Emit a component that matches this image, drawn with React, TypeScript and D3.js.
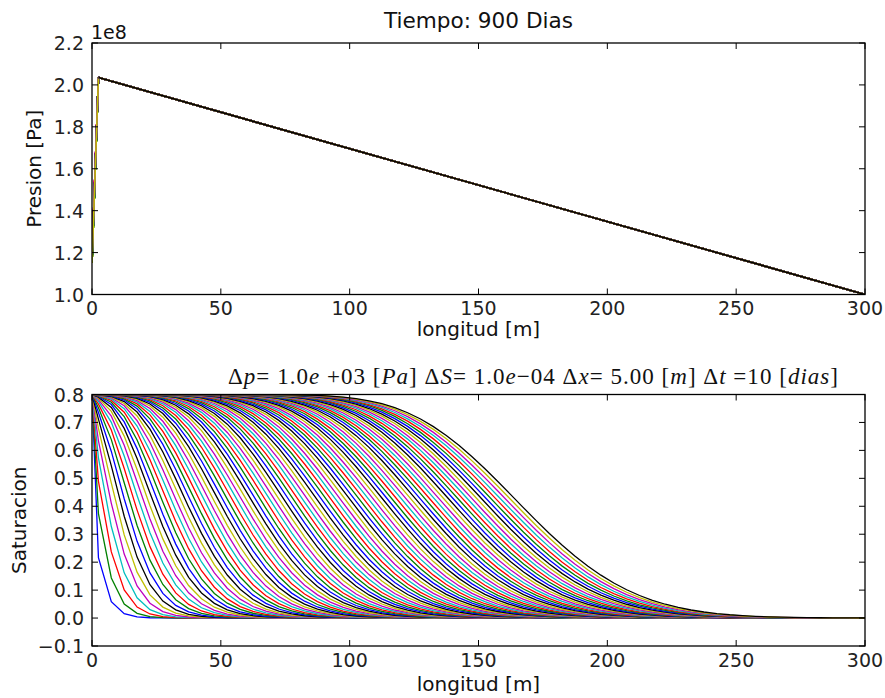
import React from "react";
import * as d3 from "d3";

// ---------- data ----------
const xTicks = [0, 50, 100, 150, 200, 250, 300];
const pressureTicks = [1.0, 1.2, 1.4, 1.6, 1.8, 2.0, 2.2];
const saturationTicks = [-0.1, 0.0, 0.1, 0.2, 0.3, 0.4, 0.5, 0.6, 0.7, 0.8];
const colorCycle = ["#0000ff", "#008000", "#ff0000", "#00bfbf", "#bf00bf", "#bfbf00", "#000000"];

// pressure profile (units of 1e8 Pa)
const inletPressures = [1.16, 1.15, 1.17, 1.16, 1.18, 1.15, 1.16];
const peakX = 2.5;
const peakPressure = 2.035;
const outletX = 300;
const outletPressure = 1.0;

// saturation simulation parameters (91 curves, dx = 5 m)
const nCurves = 91;
const nCells = 60;
const cellSize = 5;
const injectedSaturation = 0.8;
const courant = 0.37;
const theta = 1.0;

function buildSaturationCurves(): [number, number][][] {
  let s = new Array(nCells).fill(0);
  const curves: [number, number][][] = [];
  for (let n = 0; n < nCurves; n++) {
    const next: number[] = [];
    let left = injectedSaturation;
    for (let i = 0; i < nCells; i++) {
      const old = s[i];
      const oldLeft = i === 0 ? injectedSaturation : s[i - 1];
      const rhs = old - courant * (1 - theta) * (old - oldLeft) + courant * theta * left;
      next[i] = rhs / (1 + courant * theta);
      left = next[i];
    }
    s = next;
    const pts: [number, number][] = [[0, injectedSaturation]];
    s.forEach((v, i) => pts.push([(i + 0.5) * cellSize, v]));
    pts.push([300, s[nCells - 1]]);
    curves.push(pts);
  }
  return curves;
}

const W = 885;
const H = 698;
const FONT = "DejaVu Sans, Liberation Sans, sans-serif";

export default function App() {
  const left = 92;
  const right = 865;
  const top1 = 43;
  const bot1 = 294.5;
  const top2 = 394.5;
  const bot2 = 646;

  const x = d3.scaleLinear().domain([0, 300]).range([left, right]);
  const yP = d3.scaleLinear().domain([1.0, 2.2]).range([bot1, top1]);
  const yS = d3.scaleLinear().domain([-0.1, 0.8]).range([bot2, top2]);

  const curves = buildSaturationCurves();
  const line = d3.line<[number, number]>().x((d) => x(d[0])).y((d) => yS(d[1]));
  const pline = d3.line<[number, number]>().x((d) => x(d[0])).y((d) => yP(d[1]));

  // inlet segments (all but the final black step, whose inlet coincides with the peak)
  const inletSegments: [number, number][][] = [];
  for (let n = 0; n < nCurves - 1; n++) {
    inletSegments.push([
      [0, inletPressures[n % inletPressures.length]],
      [peakX, peakPressure],
    ]);
  }
  const mainSegments: [number, number][][] = [];
  for (let n = 0; n < nCurves; n++) {
    mainSegments.push([
      [peakX, peakPressure],
      [outletX, outletPressure],
    ]);
  }

  const tickLen = 6;
  const fs = 19;
  const fl = 20;

  const frame = (t: number, b: number, yscale: d3.ScaleLinear<number, number>, yt: number[], fmt: (v: number) => string) => (
    <g>
      {xTicks.map((v) => (
        <g key={"xt" + v}>
          <line x1={x(v)} x2={x(v)} y1={b} y2={b - tickLen} stroke="#000" strokeWidth={1} />
          <line x1={x(v)} x2={x(v)} y1={t} y2={t + tickLen} stroke="#000" strokeWidth={1} />
          <text x={x(v)} y={b + 20.5} fontSize={fs} textAnchor="middle" fill="#222">{v}</text>
        </g>
      ))}
      {yt.map((v) => (
        <g key={"yt" + v}>
          <line x1={left} x2={left + tickLen} y1={yscale(v)} y2={yscale(v)} stroke="#000" strokeWidth={1} />
          <line x1={right} x2={right - tickLen} y1={yscale(v)} y2={yscale(v)} stroke="#000" strokeWidth={1} />
          <text x={left - 8} y={yscale(v) + 7} fontSize={fs} textAnchor="end" fill="#222">{fmt(v)}</text>
        </g>
      ))}
      <rect x={left} y={t} width={right - left} height={b - t} fill="none" stroke="#000" strokeWidth={1.3} />
    </g>
  );

  const fmtS = (v: number) => (v < 0 ? "\u2212" + Math.abs(v).toFixed(1) : v.toFixed(1));

  return (
    <svg width={W} height={H} style={{ position: "absolute", left: 0, top: 0, background: "#fff" }} fontFamily={FONT}>
      <rect x={0} y={0} width={W} height={H} fill="#fff" />
      <defs>
        <clipPath id="c1"><rect x={left} y={top1} width={right - left} height={bot1 - top1} /></clipPath>
        <clipPath id="c2"><rect x={left} y={top2} width={right - left} height={bot2 - top2} /></clipPath>
      </defs>
      {/* ---------- top panel ---------- */}
      <g clipPath="url(#c1)">
        {inletSegments.map((pl, i) => (
          <path key={"in" + i} d={pline(pl) || ""} fill="none" stroke={colorCycle[i % 7]} strokeWidth={1.6} />
        ))}
        {mainSegments.map((pl, i) => (
          <path key={"m" + i} d={pline(pl) || ""} fill="none" stroke={colorCycle[i % 7]} strokeWidth={1.6} />
        ))}
      </g>
      {frame(top1, bot1, yP, pressureTicks, (v) => v.toFixed(1))}
      <text x={(left + right) / 2} y={28} fontSize={21.6} textAnchor="middle" fill="#111">Tiempo: 900 Dias</text>
      <text x={left - 1} y={39} fontSize={fs} fill="#111">1e8</text>
      <text x={(left + right) / 2} y={336} fontSize={fl} textAnchor="middle" fill="#111">longitud [m]</text>
      <text transform={`translate(41,${(top1 + bot1) / 2}) rotate(-90)`} fontSize={fl} textAnchor="middle" fill="#111">Presion [Pa]</text>

      {/* ---------- bottom panel ---------- */}
      <g clipPath="url(#c2)">
        {curves.map((c, i) => (
          <path key={i} d={line(c) || ""} fill="none" stroke={colorCycle[i % 7]} strokeWidth={1.3} />
        ))}
      </g>
      {frame(top2, bot2, yS, saturationTicks, fmtS)}
      <text x={(left + right) / 2} y={691} fontSize={fl} textAnchor="middle" fill="#111">longitud [m]</text>
      <text transform={`translate(26,${(top2 + bot2) / 2}) rotate(-90)`} fontSize={fl} textAnchor="middle" fill="#111">Saturacion</text>
      <text x={228} y={384} fontSize={23} fill="#111" fontFamily="'Liberation Serif', 'Times New Roman', serif" textLength={610} lengthAdjust="spacing">
        <tspan>Δ</tspan><tspan fontStyle="italic">p</tspan><tspan>= 1.0</tspan><tspan fontStyle="italic">e</tspan>
        <tspan> +03 [</tspan><tspan fontStyle="italic">Pa</tspan><tspan>] Δ</tspan><tspan fontStyle="italic">S</tspan>
        <tspan>= 1.0</tspan><tspan fontStyle="italic">e</tspan><tspan>−04   Δ</tspan><tspan fontStyle="italic">x</tspan>
        <tspan>= 5.00 [</tspan><tspan fontStyle="italic">m</tspan><tspan>] Δ</tspan><tspan fontStyle="italic">t</tspan>
        <tspan> =10 [</tspan><tspan fontStyle="italic">dias</tspan><tspan>]</tspan>
      </text>
    </svg>
  );
}
